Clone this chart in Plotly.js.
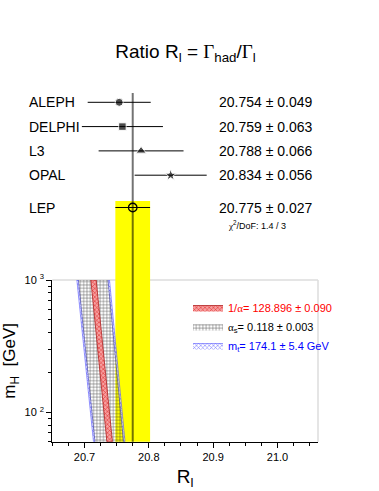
<!DOCTYPE html>
<html><head><meta charset="utf-8">
<script src="https://cdn.plot.ly/plotly-3.0.1.min.js"></script>
<style>html,body{margin:0;padding:0;background:#fff}#chart{width:379px;height:491px}</style>
</head><body><div id="chart"></div>
<script>
// ---- measurements ----
const experiments = ['ALEPH', 'DELPHI', 'L3', 'OPAL'];
const rlValues = [20.754, 20.759, 20.788, 20.834];
const rlErrors = [0.049, 0.063, 0.066, 0.056];
const markerSymbols = ['circle', 'square', 'triangle-up', 'star'];
const lepName = 'LEP';
const lepValue = 20.775;
const lepError = 0.027;
const chi2Dof = '1.4 / 3';

// ---- SM prediction bands: R_l at the two mH end points ----
const mHValues = [60, 1000];
const alphaBandLow = [20.7348, 20.7099];
const alphaBandHigh = [20.7435, 20.7182];
const alphasBandLow = [20.7163, 20.6905];
const alphasBandHigh = [20.7607, 20.7366];
const mtBandLow = [20.7140, 20.6882];
const mtBandHigh = [20.7630, 20.7389];
const bandLabels = [
  '1/<span style="font-family:Liberation Serif,serif">α</span>= 128.896 ± 0.090',
  '<span style="font-family:Liberation Serif,serif">α</span><sub>s</sub>= 0.118 ± 0.003',
  'm<sub>t</sub>= 174.1 ± 5.4 GeV'
];

// ---- ticks ----
const xTickVals = [20.7, 20.8, 20.9, 21.0];
const xTickText = ['20.7', '20.8', '20.9', '21.0'];
const yTickVals = [100, 1000];
const yTickText = ['10 <sup>2</sup>', '10 <sup>3</sup>'];
const yMinorVals = [60, 70, 80, 90, 200, 300, 400, 500, 600, 700, 800, 900];

// ---- geometry helpers (pixels -> paper) ----
const W = 379, H = 491;
const px = v => v / W;
const py = v => 1 - v / H;
const lowerBottom = py(441.7), lowerTop = py(280);

// row positions in the upper panel
const rowPos = experiments.map((_, i) => experiments.length - i + 1);
const lepPos = rowPos[rowPos.length - 1] - 1.33;

function band(lo, hi) {
  return {
    x: [lo[0], lo[1], hi[1], hi[0], lo[0]],
    y: [mHValues[0], mHValues[1], mHValues[1], mHValues[0], mHValues[0]]
  };
}
const leftStrip = band(mtBandLow, alphasBandLow);
const rightStrip = band(alphasBandHigh, mtBandHigh);
const alphasPoly = band(alphasBandLow, alphasBandHigh);
const alphaPoly = band(alphaBandLow, alphaBandHigh);

const font = 'Liberation Sans, Arial, sans-serif';
const serif = 'Liberation Serif, serif';

const traces = [
  {
    x: leftStrip.x.concat([null], rightStrip.x),
    y: leftStrip.y.concat([null], rightStrip.y),
    xaxis: 'x', yaxis: 'y', mode: 'lines', fill: 'toself',
    line: {color: '#5050ff', width: 0.6},
    fillcolor: 'rgba(0,0,0,0)',
    fillpattern: {shape: 'x', size: 3, solidity: 0.3, fgcolor: '#6060ff', bgcolor: 'rgba(255,255,255,0.7)'},
    name: '<span style="color:#0000ff">' + bandLabels[2] + '</span>',
    legendrank: 3, hoverinfo: 'skip'
  },
  {
    x: alphasPoly.x, y: alphasPoly.y,
    xaxis: 'x', yaxis: 'y', mode: 'lines', fill: 'toself',
    line: {color: 'rgba(0,0,0,0.3)', width: 0.5},
    fillcolor: 'rgba(0,0,0,0)',
    fillpattern: {shape: '+', size: 3.3, solidity: 0.3, fgcolor: '#333', fgopacity: 0.75, bgcolor: 'rgba(0,0,0,0)'},
    name: '<span style="color:#000">' + bandLabels[1] + '</span>',
    legendrank: 2, hoverinfo: 'skip'
  },
  {
    x: alphaPoly.x, y: alphaPoly.y,
    xaxis: 'x', yaxis: 'y', mode: 'lines', fill: 'toself',
    line: {color: '#b02020', width: 0.8},
    fillcolor: 'rgba(0,0,0,0)',
    fillpattern: {shape: 'x', size: 3, solidity: 0.3, fgcolor: '#e02020', bgcolor: '#f6a0a0'},
    name: '<span style="color:#ff0000">' + bandLabels[0] + '</span>',
    legendrank: 1, hoverinfo: 'skip'
  },
  {
    x: rlValues, y: rowPos, xaxis: 'x', yaxis: 'y2', mode: 'markers',
    marker: {symbol: markerSymbols, size: [8, 7.5, 9, 9], color: '#000'},
    error_x: {type: 'data', array: rlErrors, width: 0, thickness: 1, color: '#000'},
    showlegend: false, hoverinfo: 'skip'
  },
  {
    x: [lepValue], y: [lepPos], xaxis: 'x', yaxis: 'y2', mode: 'markers',
    marker: {symbol: 'circle-open', size: 8.5, color: '#000', line: {width: 1.3}},
    error_x: {type: 'data', array: [lepError], width: 0, thickness: 1, color: '#000'},
    showlegend: false, hoverinfo: 'skip'
  }
];

const annotations = [];
experiments.forEach((name, i) => {
  annotations.push({xref: 'paper', yref: 'y2', x: px(27), y: rowPos[i], text: name,
    xanchor: 'left', yanchor: 'middle', showarrow: false, font: {size: 14, color: '#000'}});
  annotations.push({xref: 'paper', yref: 'y2', x: px(315), y: rowPos[i],
    text: rlValues[i].toFixed(3) + ' ± ' + rlErrors[i].toFixed(3),
    xanchor: 'right', yanchor: 'middle', showarrow: false, font: {size: 14, color: '#000'}});
});
annotations.push({xref: 'paper', yref: 'y2', x: px(27), y: lepPos, text: lepName,
  xanchor: 'left', yanchor: 'middle', showarrow: false, font: {size: 14, color: '#000'}});
annotations.push({xref: 'paper', yref: 'y2', x: px(315), y: lepPos,
  text: lepValue.toFixed(3) + ' ± ' + lepError.toFixed(3),
  xanchor: 'right', yanchor: 'middle', showarrow: false, font: {size: 14, color: '#000'}});
annotations.push({xref: 'paper', yref: 'paper', x: px(226), y: py(225),
  text: '<span style="font-family:' + serif + '">χ</span><sup>2</sup>/DoF: ' + chi2Dof,
  xanchor: 'left', yanchor: 'middle', showarrow: false, font: {size: 9, color: '#000'}});

const shapes = [
  {type: 'line', xref: 'x domain', yref: 'y domain', x0: 0, x1: 1, y0: 1, y1: 1,
   line: {color: '#dcdcdc', width: 1.5}, layer: 'below'},
  {type: 'line', xref: 'x domain', yref: 'y domain', x0: 1, x1: 1, y0: 0, y1: 1,
   line: {color: '#dcdcdc', width: 1.5}, layer: 'below'},
  {type: 'rect', xref: 'x', yref: 'paper', x0: lepValue - lepError, x1: lepValue + lepError,
   y0: lowerBottom, y1: py(201), fillcolor: '#ffff00', line: {width: 0}, layer: 'below'},
  {type: 'line', xref: 'x', yref: 'paper', x0: lepValue, x1: lepValue,
   y0: lowerBottom, y1: py(93), line: {color: 'rgba(0,0,0,0.55)', width: 2}, layer: 'above'}
];

const layout = {
  width: W, height: H,
  margin: {l: 0, r: 0, t: 0, b: 0},
  paper_bgcolor: '#fff', plot_bgcolor: 'rgba(0,0,0,0)',
  font: {family: font, color: '#000'},
  title: {
    text: 'Ratio R<sub>l</sub> = <span style="font-family:' + serif + '">Γ</span><sub>had</sub>/<span style="font-family:' + serif + '">Γ</span><sub>l</sub>',
    x: px(185.5), xanchor: 'center', xref: 'paper', y: py(51), yanchor: 'middle', yref: 'paper',
    font: {size: 19, family: font, color: '#000'}
  },
  xaxis: {
    domain: [px(52.3), px(318)], range: [20.65, 21.063], anchor: 'y',
    showline: true, linecolor: '#000', linewidth: 1, mirror: false,
    ticks: 'outside', ticklen: 5, tickcolor: '#000', tickwidth: 1,
    tickmode: 'array', tickvals: xTickVals, ticktext: xTickText,
    tickfont: {size: 11, family: font},
    minor: {tick0: 20.65, dtick: 0.025, ticks: 'outside', ticklen: 3, tickcolor: '#000', tickwidth: 1},
    showgrid: false, zeroline: false, fixedrange: true,
    title: {text: 'R<sub>l</sub>', font: {size: 19, family: font}, standoff: 7}
  },
  yaxis: {
    type: 'log', domain: [lowerBottom, lowerTop], range: [Math.log10(60), 3], anchor: 'x',
    showline: true, linecolor: '#000', linewidth: 1,
    ticks: 'outside', ticklen: 5, tickcolor: '#000',
    tickmode: 'array', tickvals: yTickVals, ticktext: yTickText,
    tickfont: {size: 11, family: font},
    minor: {tickmode: 'array', tickvals: yMinorVals, ticks: 'outside', ticklen: 3, tickcolor: '#000'},
    showgrid: false, zeroline: false, fixedrange: true,
    title: {text: 'm<sub>H</sub>  [GeV]', font: {size: 17, family: font}, standoff: 8}
  },
  yaxis2: {
    domain: [py(220), py(90)], range: [0.156, 5.506], anchor: 'x',
    visible: false, fixedrange: true
  },
  showlegend: true,
  legend: {
    x: px(188), y: py(293), xanchor: 'left', yanchor: 'top',
    bgcolor: 'rgba(0,0,0,0)', font: {size: 11, family: font},
    itemwidth: 30, tracegroupgap: 0
  },
  shapes: shapes,
  annotations: annotations
};

Plotly.newPlot('chart', traces, layout, {displayModeBar: false, staticPlot: true});
</script>
</body></html>
